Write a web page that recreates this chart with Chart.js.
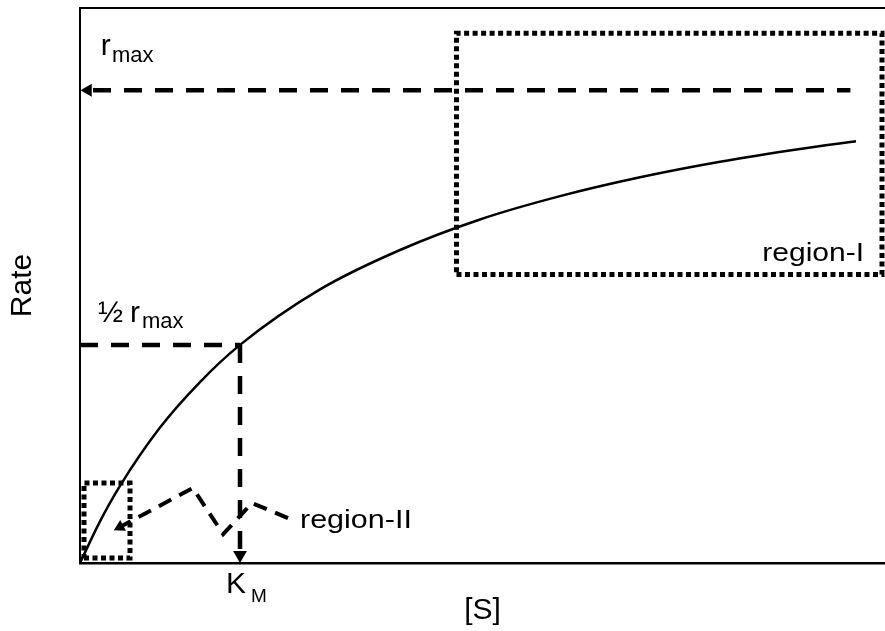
<!DOCTYPE html>
<html>
<head>
<meta charset="utf-8">
<script src="https://cdn.jsdelivr.net/npm/chart.js@4/dist/chart.umd.min.js"></script>
<style>
  html, body { margin: 0; padding: 0; background: #fff; }
  #wrap { width: 885px; height: 631px; }
</style>
</head>
<body>
<div id="wrap"><canvas id="c" width="885" height="631"></canvas></div>
<script>
// Michaelis–Menten saturation curve: rate versus substrate concentration
const substrate = [0, 0.25, 0.5, 1, 1.5, 2, 3, 4, 5, 6, 7, 8, 9, 9.7];
const rate      = [0, 0.75, 1.39, 2.44, 3.26, 3.93, 4.93, 5.64, 6.19, 6.61, 6.95, 7.23, 7.46, 7.60];

// guide levels
const rMax = 8.52;
const rMaxLineX = [0.1, 9.63];
const halfRMax = 3.93;
const kM = 2;
const kMArrowY = 0.144;

// dotted frames around the two regions
const region1X = [4.706, 10.025];
const region1Y = [5.2, 9.544];
const region2X = [0.05, 0.625];
const region2Y = [0.09, 1.441];

// zig-zag pointer from the "region-II" label to its frame
const pointerX = [2.6, 2.15, 1.79, 1.41, 0.5];
const pointerY = [0.81, 1.08, 0.52, 1.35, 0.65];

// in-plot labels (data coordinates of the text baseline)
const labelText  = ['r',  'max', '½',   'r',   'max', 'K',   'M',    'region-I', 'region-II'];
const labelX     = [0.26, 0.40,  0.225, 0.625, 0.775, 1.825, 2.1375, 9.8,        2.75];
const labelY     = [9.15, 9.03,  4.34,  4.34,  4.23,  -0.54, -0.70,  5.44,       0.63];
const labelSize  = [30,   22,    30,    30,    22,    30,    19,     25,         25];
const labelAlign = ['left','left','left','left','left','left','left','right',    'left'];
const labelWide  = [1,    1,     1,     1,     1,     1,     1,      1.2,        1.22];

const FONT = '"Liberation Sans", Arial, Helvetica, sans-serif';

const pts = (xs, ys) => xs.map((x, i) => ({ x, y: ys[i] }));
const rect = (xs, ys) => pts([xs[0], xs[1], xs[1], xs[0], xs[0]], [ys[0], ys[0], ys[1], ys[1], ys[0]]);

const base = {
  borderColor: '#000', backgroundColor: '#000',
  pointBackgroundColor: '#000', pointBorderWidth: 0,
  pointStyle: 'triangle', fill: false, clip: false, tension: 0
};

const textPlugin = {
  id: 'plotText',
  afterDatasetsDraw(chart) {
    const { ctx, scales: { x, y } } = chart;
    ctx.save();
    ctx.fillStyle = '#000';
    ctx.textBaseline = 'alphabetic';
    labelText.forEach((t, i) => {
      ctx.save();
      ctx.font = labelSize[i] + 'px ' + FONT;
      ctx.textAlign = labelAlign[i];
      ctx.translate(x.getPixelForValue(labelX[i]), y.getPixelForValue(labelY[i]));
      ctx.scale(labelWide[i], 1);
      ctx.fillText(t, 0, 0);
      ctx.restore();
    });
    ctx.restore();
  }
};

const noPad = (s) => { s.paddingLeft = 0; s.paddingRight = 0; s.paddingTop = 0; s.paddingBottom = 0; };

new Chart(document.getElementById('c'), {
  type: 'line',
  data: {
    datasets: [
      { ...base, data: pts(substrate, rate), borderWidth: 2.5, pointRadius: 0,
        tension: 0.4, cubicInterpolationMode: 'monotone' },
      { ...base, data: pts(rMaxLineX, [rMax, rMax]), borderWidth: 4.5,
        borderDash: [18, 13], borderDashOffset: 26,
        pointRadius: [7.5, 0], pointRotation: [-90, 0] },
      { ...base, data: pts([0, kM], [halfRMax, halfRMax]), borderWidth: 4.5,
        borderDash: [18, 13], pointRadius: 0 },
      { ...base, data: pts([kM, kM], [halfRMax, kMArrowY]), borderWidth: 4.5,
        borderDash: [18, 13], pointRadius: [0, 8], pointRotation: [0, 180] },
      { ...base, data: rect(region1X, region1Y), borderWidth: 5,
        borderDash: [5, 3.5], pointRadius: 0 },
      { ...base, data: rect(region2X, region2Y), borderWidth: 5,
        borderDash: [5, 3.5], pointRadius: 0 },
      { ...base, data: pts(pointerX, pointerY), borderWidth: 4,
        borderDash: [14, 9], pointRadius: [0, 0, 0, 0, 7],
        pointRotation: [0, 0, 0, 0, 242] }
    ]
  },
  options: {
    responsive: false,
    animation: false,
    events: [],
    layout: { padding: 0, autoPadding: false },
    plugins: { legend: { display: false }, tooltip: { enabled: false } },
    scales: {
      x: {
        type: 'linear', position: 'bottom', min: 0, max: 10.0625,
        grid: { display: false }, ticks: { display: false },
        border: { display: true, color: '#000', width: 2.5 },
        title: { display: true, text: '[S]', color: '#000',
                 font: { family: FONT, size: 30 }, padding: { top: 0, bottom: 2 } },
        afterFit(s) { s.height = 68; noPad(s); }
      },
      xTop: {
        type: 'linear', position: 'top', min: 0, max: 1,
        grid: { display: false }, ticks: { display: false },
        border: { display: true, color: '#000', width: 2 },
        afterFit(s) { s.height = 8; noPad(s); }
      },
      y: {
        type: 'linear', position: 'left', min: 0, max: 10,
        grid: { display: false }, ticks: { display: false },
        border: { display: true, color: '#000', width: 2 },
        title: { display: true, text: 'Rate', color: '#000',
                 font: { family: FONT, size: 30 }, padding: { top: 4.5, bottom: 0 } },
        afterFit(s) { s.width = 80; noPad(s); }
      }
    }
  },
  plugins: [textPlugin]
});
</script>
</body>
</html>
